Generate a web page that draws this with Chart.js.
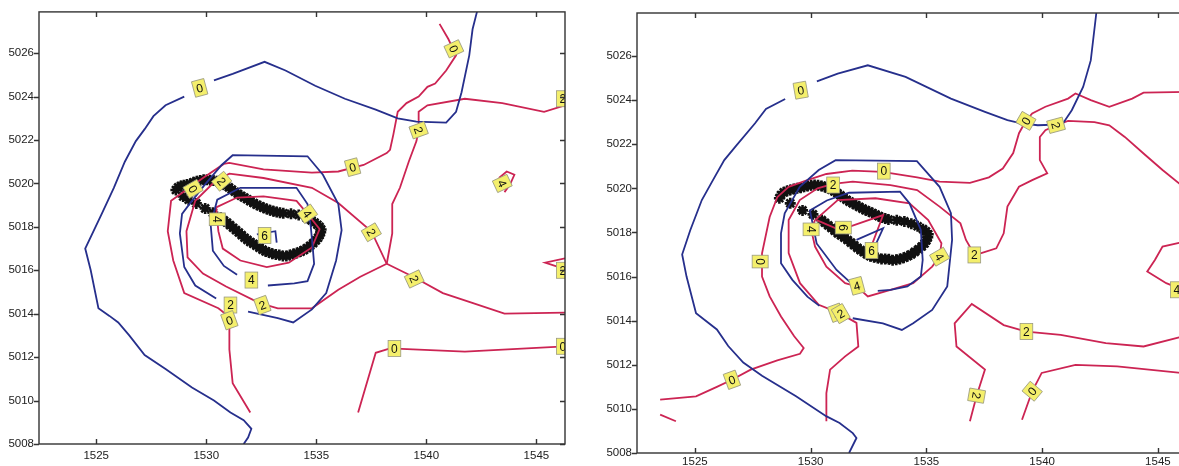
<!DOCTYPE html>
<html>
<head>
<meta charset="utf-8">
<script src="https://cdn.jsdelivr.net/npm/chart.js@4.4.0/dist/chart.umd.min.js"></script>
<style>
  html, body { margin: 0; padding: 0; background: #fff; overflow: hidden; }
  #wrap { position: relative; width: 1179px; height: 466px; overflow: hidden; }
  #wrap canvas { position: absolute; top: 0; }
  #leftPlot { left: 0; }
  #rightPlot { left: 590px; }
</style>
</head>
<body>
<div id="wrap">
  <canvas id="leftPlot" width="580" height="466"></canvas>
  <canvas id="rightPlot" width="610" height="466"></canvas>
</div>
<script>
// Axis ticks shared by both panels
const xTicks = [1525, 1530, 1535, 1540, 1545];
const yTicks = [5008, 5010, 5012, 5014, 5016, 5018, 5020, 5022, 5024, 5026];

// ---- Left panel contours ([x, y] in map units) ----
const leftBlue0a = [[1529.0,5024.0],[1528.15,5023.6],[1527.6,5023.1],[1527.2,5022.5],[1526.8,5021.95],[1526.3,5021.0],[1525.8,5019.8],[1525.25,5018.6],[1524.5,5017.0],[1524.75,5016.0],[1525.1,5014.25],[1525.6,5013.9],[1526.0,5013.6],[1526.5,5013.0],[1527.2,5012.1],[1528.15,5011.45],[1529.35,5010.6],[1530.35,5010.0],[1531.1,5009.45],[1531.7,5009.1],[1532.05,5008.7],[1531.9,5008.3],[1531.7,5008.0]];
const leftBlue0b = [[1530.35,5024.75],[1531.2,5025.05],[1532.65,5025.6],[1533.6,5025.2],[1534.95,5024.5],[1536.3,5023.9],[1537.7,5023.4],[1538.7,5023.0],[1539.55,5022.85],[1540.9,5022.8],[1541.35,5023.3],[1541.6,5024.2],[1541.95,5025.9],[1542.1,5027.1],[1542.3,5027.9]];
const leftBlue2 = [[1530.45,5014.7],[1529.5,5015.3],[1529.0,5016.15],[1528.8,5017.7],[1528.9,5018.6],[1529.2,5019.0],[1529.9,5019.9],[1530.7,5020.85],[1531.2,5021.3],[1534.6,5021.25],[1535.3,5020.4],[1536.0,5019.05],[1536.15,5017.85],[1535.9,5016.45],[1535.45,5014.95],[1534.8,5014.2],[1533.95,5013.6],[1533.25,5013.8],[1531.9,5014.1]];
const leftBlue4 = [[1532.8,5015.3],[1534.0,5015.4],[1534.6,5015.5],[1534.9,5016.3],[1534.85,5016.9],[1534.75,5018.0],[1534.6,5019.05],[1534.1,5019.8],[1531.55,5019.8],[1530.5,5019.25],[1530.2,5018.1],[1530.3,5016.9],[1530.8,5016.2],[1531.4,5015.8]];
const leftBlue6 = [[1532.3,5017.65],[1533.14,5017.8],[1533.2,5017.27]];
const leftRed0 = [[1540.6,5027.35],[1541.0,5026.65],[1541.35,5025.9],[1540.9,5025.2],[1540.4,5024.6],[1540.05,5024.45],[1539.65,5024.0],[1539.1,5023.7],[1538.7,5023.3],[1538.5,5022.25],[1538.35,5021.55],[1538.2,5021.4],[1537.15,5020.85],[1536.0,5020.55],[1534.8,5020.5],[1532.6,5020.65],[1531.05,5020.95],[1530.8,5020.9],[1529.85,5020.25],[1528.4,5019.2],[1528.25,5017.8],[1528.5,5016.45],[1529.0,5014.95],[1530.55,5014.25],[1531.05,5013.85],[1531.05,5012.35],[1531.2,5010.8],[1532.0,5009.45]];
const leftRed2a = [[1538.2,5016.3],[1538.45,5017.7],[1538.45,5019.05],[1538.8,5019.8],[1539.2,5021.0],[1539.55,5021.95],[1539.65,5022.45],[1539.65,5023.3],[1540.05,5023.6],[1541.75,5023.9],[1543.45,5023.7],[1545.35,5023.3],[1546.3,5023.6]];
const leftRed2b = [[1538.2,5016.3],[1539.4,5015.7],[1540.75,5014.95],[1541.95,5014.55],[1543.55,5014.0],[1546.3,5014.05]];
const leftRed2c = [[1538.2,5016.3],[1537.5,5017.8],[1536.0,5019.1],[1534.8,5019.8],[1532.6,5020.25],[1531.05,5020.45],[1530.4,5020.1],[1529.5,5019.2],[1529.1,5017.8],[1529.15,5016.6],[1529.85,5015.85],[1530.9,5015.25],[1532.4,5014.5],[1533.25,5014.25],[1534.8,5014.25],[1536.0,5015.1],[1537.0,5015.7],[1538.2,5016.3]];
const leftRed4 = [[1530.45,5018.9],[1531.4,5019.35],[1532.6,5019.4],[1534.1,5019.2],[1534.6,5018.6],[1535.15,5017.9],[1534.8,5017.05],[1533.75,5016.35],[1532.75,5016.15],[1531.55,5016.45],[1530.75,5017.0],[1530.55,5017.8],[1530.45,5018.9]];
const leftRed0b = [[1536.9,5009.45],[1537.7,5012.2],[1538.35,5012.4],[1541.75,5012.25],[1546.3,5012.5]];
const leftRed4b = [[1543.3,5020.25],[1543.65,5020.55],[1544.0,5020.4],[1543.8,5019.95],[1543.55,5019.6]];
const leftRedEdge = [[1546.3,5016.55],[1545.4,5016.35],[1546.3,5016.05]];

// Ship track, left panel
const leftTrack = [[1528.62,5019.70],[1528.72,5019.82],[1528.85,5019.88],[1528.98,5019.92],[1529.12,5019.95],[1529.27,5019.98],[1529.42,5020.05],[1529.57,5020.10],[1529.72,5020.14],[1529.88,5020.17],[1530.03,5020.17],[1530.18,5020.15],[1530.33,5020.13],[1530.48,5020.10],[1530.62,5020.05],[1530.76,5019.98],[1530.90,5019.90],[1531.03,5019.82],[1531.16,5019.72],[1531.30,5019.62],[1531.44,5019.52],[1531.58,5019.43],[1531.72,5019.35],[1531.86,5019.27],[1532.00,5019.18],[1532.15,5019.10],[1532.30,5019.02],[1532.45,5018.95],[1532.60,5018.88],[1532.75,5018.82],[1532.90,5018.77],[1533.05,5018.72],[1533.20,5018.68],[1533.35,5018.65],[1533.50,5018.63],[1533.85,5018.60],[1534.20,5018.55],[1534.55,5018.42],[1534.78,5018.30],[1534.92,5018.20],[1535.05,5018.10],[1535.15,5018.00],[1535.22,5017.88],[1535.20,5017.75],[1535.15,5017.62],[1535.08,5017.50],[1534.98,5017.38],[1534.86,5017.25],[1534.72,5017.13],[1534.58,5017.02],[1534.43,5016.93],[1534.28,5016.86],[1534.12,5016.80],[1533.96,5016.75],[1533.80,5016.70],[1533.64,5016.66],[1533.48,5016.66],[1533.32,5016.70],[1533.16,5016.73],[1533.00,5016.76],[1532.85,5016.82],[1532.70,5016.87],[1532.56,5016.95],[1532.42,5017.04],[1532.28,5017.13],[1532.14,5017.22],[1532.00,5017.30],[1531.87,5017.40],[1531.74,5017.50],[1531.61,5017.62],[1531.48,5017.74],[1531.35,5017.85],[1531.22,5017.96],[1531.08,5018.08],[1530.94,5018.20],[1530.80,5018.30],[1530.66,5018.42],[1530.30,5018.65],[1529.95,5018.85],[1529.55,5019.08],[1529.20,5019.25],[1528.95,5019.40]];

// Contour labels, left panel: [text, x, y, angle]
const leftLabels = [['0',1529.7,5024.4,-15],['0',1541.25,5026.2,65],['2',1539.65,5022.45,70],['0',1536.65,5020.75,-15],['0',1529.4,5019.75,60],['2',1530.7,5020.1,50],['4',1534.6,5018.6,55],['4',1530.5,5018.35,90],['6',1532.65,5017.6,0],['2',1537.5,5017.75,60],['2',1539.45,5015.6,65],['4',1532.05,5015.55,0],['2',1531.1,5014.4,0],['2',1532.55,5014.4,-20],['0',1531.05,5013.7,-20],['4',1543.45,5020.0,65],['0',1538.55,5012.4,0],['0',1546.2,5012.5,0],['2',1546.2,5016.0,0],['2',1546.2,5023.9,0]];

// ---- Right panel contours ----
const rightBlue0a = [[1528.9,5024.05],[1528.07,5023.6],[1527.6,5022.95],[1526.76,5021.9],[1526.27,5021.28],[1525.78,5020.37],[1525.3,5019.47],[1524.8,5018.1],[1524.45,5017.0],[1524.64,5016.0],[1525.05,5014.34],[1525.95,5013.6],[1526.44,5012.85],[1527.09,5012.1],[1527.9,5011.5],[1529.37,5010.57],[1530.67,5009.67],[1531.25,5009.36],[1531.82,5008.9],[1531.98,5008.68],[1531.66,5008.0]];
const rightBlue0b = [[1530.27,5024.85],[1531.17,5025.2],[1532.47,5025.58],[1534.1,5025.05],[1536.06,5024.07],[1537.53,5023.47],[1538.5,5023.09],[1539.0,5022.97],[1539.81,5022.86],[1540.87,5022.9],[1541.28,5023.54],[1541.77,5024.6],[1542.1,5025.8],[1542.34,5027.95]];
const rightBlue2 = [[1530.38,5014.67],[1529.86,5015.09],[1529.21,5015.85],[1528.72,5016.6],[1528.72,5017.96],[1528.88,5018.87],[1529.53,5020.07],[1530.35,5020.83],[1531.08,5021.28],[1534.59,5021.23],[1535.57,5020.07],[1536.06,5018.87],[1536.11,5017.66],[1535.9,5015.55],[1535.25,5014.49],[1534.43,5013.88],[1533.94,5013.58],[1533.12,5013.88],[1531.82,5014.11]];
const rightBlue4 = [[1532.9,5015.35],[1533.45,5015.4],[1534.18,5015.55],[1534.76,5016.0],[1534.84,5016.75],[1534.76,5018.11],[1534.27,5019.32],[1533.86,5019.85],[1531.66,5019.8],[1530.7,5019.45],[1529.97,5019.0],[1530.26,5017.5],[1531.12,5016.3],[1531.7,5015.75]];
const rightBlue6 = [[1531.98,5017.66],[1533.13,5018.19],[1532.7,5017.2]];
const rightRed0 = [[1546.3,5024.37],[1544.38,5024.34],[1543.89,5024.07],[1542.9,5023.7],[1542.1,5024.0],[1541.44,5024.3],[1541.12,5024.07],[1540.14,5023.7],[1539.57,5023.4],[1539.3,5023.06],[1539.0,5022.5],[1538.75,5021.6],[1538.3,5020.9],[1537.7,5020.5],[1536.88,5020.25],[1535.57,5020.3],[1534.6,5020.5],[1533.1,5020.75],[1531.8,5020.8],[1530.68,5020.65],[1529.86,5020.37],[1529.05,5020.07],[1528.56,5019.6],[1528.23,5018.7],[1527.9,5017.05],[1527.9,5016.0],[1528.23,5015.1],[1528.72,5014.19],[1529.29,5013.29],[1529.7,5012.76],[1529.54,5012.5],[1528.56,5012.2],[1527.41,5011.78],[1526.6,5011.32],[1525.95,5011.0],[1525.05,5010.57],[1523.5,5010.42]];
const rightRed0s = [[1523.5,5009.74],[1524.18,5009.44]];
const rightRed2 = [[1530.68,5009.44],[1530.68,5010.72],[1530.84,5011.78],[1531.49,5012.38],[1532.06,5012.83],[1531.98,5013.9],[1531.25,5014.34],[1530.35,5014.72],[1529.54,5015.7],[1529.05,5017.06],[1529.05,5018.56],[1529.53,5019.47],[1530.3,5020.0],[1530.97,5020.2],[1531.82,5020.3],[1533.45,5020.15],[1534.6,5019.92],[1535.57,5019.17],[1536.47,5018.41],[1536.71,5017.66],[1537.07,5017.0],[1537.37,5017.06],[1538.02,5017.28],[1538.34,5017.96],[1538.5,5019.17],[1539.0,5020.07],[1539.57,5020.37],[1540.22,5020.68],[1539.9,5021.28],[1539.9,5022.33],[1540.14,5022.64],[1540.6,5022.86],[1541.12,5023.06],[1542.26,5023.0],[1542.9,5022.86],[1543.57,5022.33],[1544.38,5021.58],[1545.2,5020.83],[1546.3,5019.9]];
const rightRed2b = [[1536.88,5009.44],[1537.17,5010.6],[1537.53,5011.78],[1536.3,5012.83],[1536.22,5013.88],[1536.96,5014.76],[1538.34,5013.8],[1539.32,5013.5],[1540.8,5013.36],[1542.75,5012.98],[1544.38,5012.83],[1546.3,5013.35]];
const rightRed0b = [[1539.13,5009.51],[1539.57,5010.8],[1539.98,5011.63],[1541.44,5012.0],[1543.24,5011.93],[1546.3,5011.6]];
const rightRed4 = [[1530.19,5018.56],[1531.17,5019.47],[1532.8,5019.55],[1534.27,5019.32],[1535.08,5018.56],[1535.65,5017.51],[1535.57,5016.9],[1535.25,5016.45],[1534.43,5015.7],[1533.45,5015.4],[1532.47,5015.1],[1532.0,5015.55],[1531.49,5015.7],[1530.68,5016.45],[1530.19,5017.36],[1530.02,5018.14],[1530.19,5018.56]];
const rightRed4b = [[1546.3,5017.62],[1545.2,5017.36],[1544.87,5016.75],[1544.54,5016.23],[1545.36,5015.7],[1546.3,5015.3]];
const rightRed6 = [[1530.26,5018.56],[1531.26,5018.11],[1533.13,5018.79],[1532.56,5017.2]];

// Ship track, right panel
const rightTrack = [[1528.65,5019.55],[1528.72,5019.70],[1528.84,5019.82],[1528.98,5019.88],[1529.12,5019.93],[1529.27,5019.97],[1529.42,5020.00],[1529.57,5020.03],[1529.72,5020.07],[1529.87,5020.11],[1530.02,5020.14],[1530.17,5020.15],[1530.32,5020.14],[1530.47,5020.11],[1530.62,5020.06],[1530.76,5020.00],[1530.90,5019.94],[1531.03,5019.86],[1531.16,5019.78],[1531.29,5019.68],[1531.42,5019.58],[1531.55,5019.48],[1531.68,5019.40],[1531.82,5019.32],[1531.96,5019.24],[1532.10,5019.16],[1532.24,5019.08],[1532.38,5019.01],[1532.52,5018.95],[1532.66,5018.88],[1532.80,5018.81],[1532.94,5018.74],[1533.08,5018.68],[1533.22,5018.63],[1533.36,5018.59],[1533.72,5018.55],[1534.05,5018.50],[1534.35,5018.40],[1534.62,5018.28],[1534.85,5018.15],[1534.98,5018.05],[1535.08,5017.92],[1535.06,5017.78],[1535.00,5017.64],[1534.92,5017.50],[1534.80,5017.36],[1534.66,5017.24],[1534.50,5017.12],[1534.34,5017.00],[1534.18,5016.92],[1534.02,5016.85],[1533.86,5016.80],[1533.70,5016.76],[1533.54,5016.74],[1533.38,5016.78],[1533.22,5016.80],[1533.06,5016.80],[1532.90,5016.84],[1532.74,5016.88],[1532.58,5016.92],[1532.44,5017.00],[1532.30,5017.10],[1532.16,5017.20],[1532.02,5017.30],[1531.88,5017.42],[1531.74,5017.54],[1531.60,5017.66],[1531.46,5017.76],[1531.32,5017.86],[1531.18,5017.96],[1531.04,5018.08],[1530.90,5018.20],[1530.76,5018.32],[1530.62,5018.44],[1530.48,5018.56],[1530.10,5018.82],[1529.65,5019.00],[1529.12,5019.32]];

const rightLabels = [['0',1529.57,5024.45,-10],['0',1539.3,5023.06,-60],['2',1540.6,5022.86,75],['0',1533.16,5020.78,0],['2',1530.97,5020.15,0],['4',1530.02,5018.14,90],['6',1531.41,5018.22,90],['6',1532.63,5017.18,0],['4',1535.57,5016.9,60],['2',1537.07,5016.98,0],['0',1527.82,5016.68,90],['4',1532.0,5015.58,-15],['2',1531.1,5014.36,-20],['2',1531.3,5014.32,-30],['2',1539.32,5013.51,0],['0',1526.6,5011.32,-20],['2',1537.17,5010.6,100],['0',1539.57,5010.8,-50],['4',1545.82,5015.4,0]];

const BLUE = '#262f8c';
const RED = '#cc2453';

// Box around the axes with MATLAB-like tick marks
const axesFrame = {
  id: 'axesFrame',
  afterDraw(chart) {
    const { ctx, chartArea: a, scales: { x, y } } = chart;
    ctx.save();
    ctx.strokeStyle = '#333';
    ctx.lineWidth = 1.4;
    ctx.strokeRect(a.left, a.top, a.right - a.left, a.bottom - a.top);
    ctx.beginPath();
    x.ticks.forEach(t => {
      const px = Math.round(x.getPixelForValue(t.value)) + 0.5;
      ctx.moveTo(px, a.bottom); ctx.lineTo(px, a.bottom - 5);
      ctx.moveTo(px, a.top); ctx.lineTo(px, a.top + 5);
    });
    y.ticks.forEach(t => {
      const py = Math.round(y.getPixelForValue(t.value)) + 0.5;
      ctx.moveTo(a.left - 5, py); ctx.lineTo(a.left, py);
      ctx.moveTo(a.right, py); ctx.lineTo(a.right - 5, py);
    });
    ctx.stroke();
    ctx.restore();
  }
};

// Inline contour labels (yellow boxes)
const contourLabels = {
  id: 'contourLabels',
  afterDatasetsDraw(chart, args, opts) {
    const { ctx, chartArea: a, scales: { x, y } } = chart;
    ctx.save();
    ctx.beginPath();
    ctx.rect(a.left, a.top, a.right - a.left, a.bottom - a.top);
    ctx.clip();
    ctx.font = '12px "Liberation Sans", Arial, sans-serif';
    ctx.textAlign = 'center';
    ctx.textBaseline = 'middle';
    (opts.items || []).forEach(([text, vx, vy, angle]) => {
      const w = ctx.measureText(text).width + 6;
      const h = 16;
      ctx.save();
      ctx.translate(x.getPixelForValue(vx), y.getPixelForValue(vy));
      ctx.rotate(angle * Math.PI / 180);
      ctx.fillStyle = '#f4ef6c';
      ctx.fillRect(-w / 2, -h / 2, w, h);
      ctx.strokeStyle = '#9a9a80';
      ctx.lineWidth = 0.8;
      ctx.strokeRect(-w / 2, -h / 2, w, h);
      ctx.fillStyle = '#111';
      ctx.fillText(text, 0, 1);
      ctx.restore();
    });
    ctx.restore();
  }
};

function toPoints(arr) {
  return arr.map(p => ({ x: p[0], y: p[1] }));
}

function makePanel(canvasId, lines, track, labels, frame) {
  const datasets = lines.map(([pts, color]) => ({
    data: toPoints(pts),
    showLine: true,
    borderColor: color,
    borderWidth: 1.8,
    pointRadius: 0,
    fill: false,
    tension: 0
  }));
  datasets.push({
    data: toPoints(track),
    showLine: false,
    pointStyle: 'star',
    pointRadius: 5.5,
    borderColor: '#111',
    backgroundColor: '#111',
    borderWidth: 2.6
  });

  const tickFont = { family: '"Liberation Sans", Arial, sans-serif', size: 11.5 };

  return new Chart(document.getElementById(canvasId).getContext('2d'), {
    type: 'scatter',
    data: { datasets },
    options: {
      responsive: false,
      animation: false,
      events: [],
      layout: { padding: { top: frame.top, right: frame.right, left: 0, bottom: 0 } },
      plugins: {
        legend: { display: false },
        tooltip: { enabled: false },
        contourLabels: { items: labels }
      },
      scales: {
        x: {
          type: 'linear',
          min: frame.xMin,
          max: frame.xMax,
          afterBuildTicks: s => { s.ticks = xTicks.map(v => ({ value: v })); },
          afterFit: s => { s.height = frame.xAxisH; },
          grid: { display: false, drawTicks: false },
          border: { display: false },
          ticks: { font: tickFont, color: '#222', padding: frame.xPad, maxRotation: 0, callback: v => String(v) }
        },
        y: {
          type: 'linear',
          min: 5008,
          max: frame.yMax,
          afterBuildTicks: s => { s.ticks = yTicks.map(v => ({ value: v })); },
          afterFit: s => { s.width = frame.yAxisW; },
          grid: { display: false, drawTicks: false },
          border: { display: false },
          ticks: { font: tickFont, color: '#222', padding: 5, callback: v => String(v) }
        }
      }
    },
    plugins: [axesFrame, contourLabels]
  });
}

makePanel('leftPlot', [
  [leftBlue0a, BLUE], [leftBlue0b, BLUE], [leftBlue2, BLUE], [leftBlue4, BLUE], [leftBlue6, BLUE],
  [leftRed0, RED], [leftRed2a, RED], [leftRed2b, RED], [leftRed2c, RED], [leftRed4, RED],
  [leftRed0b, RED], [leftRed4b, RED], [leftRedEdge, RED]
], leftTrack, leftLabels, { top: 9, right: 15, xAxisH: 22, yAxisW: 39, xPad: 5, xMin: 1522.4, xMax: 1546.3, yMax: 5027.9 });

makePanel('rightPlot', [
  [rightBlue0a, BLUE], [rightBlue0b, BLUE], [rightBlue2, BLUE], [rightBlue4, BLUE], [rightBlue6, BLUE],
  [rightRed0, RED], [rightRed0s, RED], [rightRed2, RED], [rightRed2b, RED], [rightRed0b, RED],
  [rightRed4, RED], [rightRed4b, RED], [rightRed6, RED]
], rightTrack, rightLabels, { top: 13, right: 12, xAxisH: 13, yAxisW: 47, xPad: 2, xMin: 1522.5, xMax: 1546.3, yMax: 5027.95 });
</script>
</body>
</html>
